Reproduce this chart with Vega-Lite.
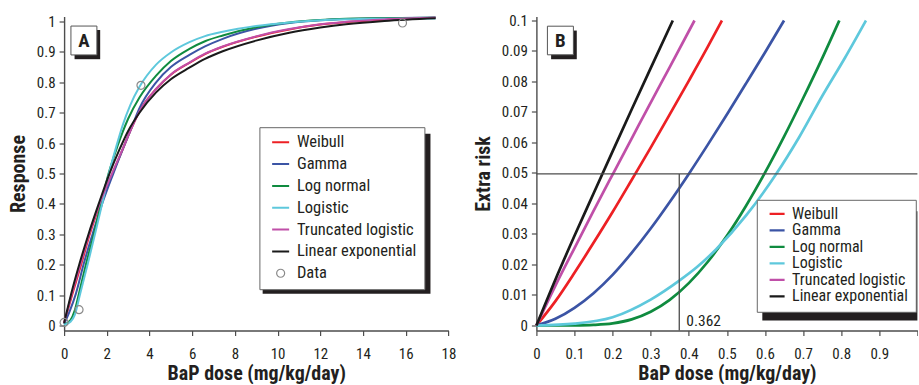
{
  "$schema": "https://vega.github.io/schema/vega-lite/v6.json",
  "background": "white",
  "padding": {"left": 8.1, "top": 12.5, "right": 0, "bottom": 0},
  "bounds": "flush",
  "spacing": 87.3,
  "config": {
    "view": {"stroke": null},
    "font": "'Roboto Condensed', 'DejaVu Sans Condensed', sans-serif",
    "axis": {
      "grid": false, "domainColor": "#4d4d4d", "domainWidth": 1.4,
      "tickColor": "#4d4d4d", "tickWidth": 1.2, "tickSize": 5,
      "labelFont": "'Roboto Condensed', 'DejaVu Sans Condensed', sans-serif",
      "labelFontSize": 15, "labelColor": "#231f20", "labelFlush": false, "labelOverlap": false,
      "titleFont": "'Roboto Condensed', 'DejaVu Sans Condensed', sans-serif",
      "titleFontSize": 20, "titleFontWeight": "bold", "titleColor": "#231f20"
    },
    "axisX": {"labelPadding": 10.6, "titlePadding": 2},
    "axisY": {"labelPadding": 4, "titlePadding": 7.5}
  },
  "resolve": {"scale": {"color": "independent"}, "legend": {"color": "independent"}},
  "datasets": {
    "curvesA": [
      {"model": "Weibull", "dose": 0, "response": 0.008},
      {"model": "Weibull", "dose": 0.39, "response": 0.104},
      {"model": "Weibull", "dose": 0.81, "response": 0.203},
      {"model": "Weibull", "dose": 1.21, "response": 0.302},
      {"model": "Weibull", "dose": 1.69, "response": 0.4},
      {"model": "Weibull", "dose": 2.26, "response": 0.499},
      {"model": "Weibull", "dose": 2.75, "response": 0.58},
      {"model": "Weibull", "dose": 3.1, "response": 0.64},
      {"model": "Weibull", "dose": 3.53, "response": 0.705},
      {"model": "Weibull", "dose": 4.31, "response": 0.778},
      {"model": "Weibull", "dose": 5.0, "response": 0.825},
      {"model": "Weibull", "dose": 5.87, "response": 0.864},
      {"model": "Weibull", "dose": 6.6, "response": 0.893},
      {"model": "Weibull", "dose": 7.43, "response": 0.917},
      {"model": "Weibull", "dose": 8.99, "response": 0.95},
      {"model": "Weibull", "dose": 10.55, "response": 0.974},
      {"model": "Weibull", "dose": 12, "response": 0.99},
      {"model": "Weibull", "dose": 13.2, "response": 0.998},
      {"model": "Weibull", "dose": 15, "response": 1.006},
      {"model": "Weibull", "dose": 17.4, "response": 1.012},
      {"model": "Gamma", "dose": 0, "response": 0.005},
      {"model": "Gamma", "dose": 0.25, "response": 0.045},
      {"model": "Gamma", "dose": 0.55, "response": 0.104},
      {"model": "Gamma", "dose": 0.92, "response": 0.203},
      {"model": "Gamma", "dose": 1.34, "response": 0.302},
      {"model": "Gamma", "dose": 1.78, "response": 0.4},
      {"model": "Gamma", "dose": 2.3, "response": 0.499},
      {"model": "Gamma", "dose": 2.75, "response": 0.58},
      {"model": "Gamma", "dose": 3.1, "response": 0.64},
      {"model": "Gamma", "dose": 3.53, "response": 0.715},
      {"model": "Gamma", "dose": 4.31, "response": 0.8},
      {"model": "Gamma", "dose": 5.0, "response": 0.85},
      {"model": "Gamma", "dose": 5.87, "response": 0.89},
      {"model": "Gamma", "dose": 6.6, "response": 0.918},
      {"model": "Gamma", "dose": 7.43, "response": 0.943},
      {"model": "Gamma", "dose": 8.99, "response": 0.976},
      {"model": "Gamma", "dose": 10.55, "response": 0.995},
      {"model": "Gamma", "dose": 12, "response": 1.004},
      {"model": "Gamma", "dose": 13.2, "response": 1.008},
      {"model": "Gamma", "dose": 15, "response": 1.011},
      {"model": "Gamma", "dose": 17.4, "response": 1.013},
      {"model": "Log normal", "dose": 0, "response": 0.003},
      {"model": "Log normal", "dose": 0.3, "response": 0.018},
      {"model": "Log normal", "dose": 0.5, "response": 0.05},
      {"model": "Log normal", "dose": 0.69, "response": 0.104},
      {"model": "Log normal", "dose": 1.03, "response": 0.203},
      {"model": "Log normal", "dose": 1.4, "response": 0.302},
      {"model": "Log normal", "dose": 1.73, "response": 0.4},
      {"model": "Log normal", "dose": 2.08, "response": 0.499},
      {"model": "Log normal", "dose": 2.5, "response": 0.59},
      {"model": "Log normal", "dose": 3.0, "response": 0.68},
      {"model": "Log normal", "dose": 3.53, "response": 0.75},
      {"model": "Log normal", "dose": 4.31, "response": 0.822},
      {"model": "Log normal", "dose": 5.0, "response": 0.87},
      {"model": "Log normal", "dose": 5.87, "response": 0.91},
      {"model": "Log normal", "dose": 6.6, "response": 0.935},
      {"model": "Log normal", "dose": 7.43, "response": 0.954},
      {"model": "Log normal", "dose": 8.99, "response": 0.981},
      {"model": "Log normal", "dose": 10.55, "response": 0.997},
      {"model": "Log normal", "dose": 12, "response": 1.005},
      {"model": "Log normal", "dose": 13.2, "response": 1.009},
      {"model": "Log normal", "dose": 15, "response": 1.011},
      {"model": "Log normal", "dose": 17.4, "response": 1.012},
      {"model": "Logistic", "dose": 0, "response": 0.002},
      {"model": "Logistic", "dose": 0.3, "response": 0.012},
      {"model": "Logistic", "dose": 0.5, "response": 0.035},
      {"model": "Logistic", "dose": 0.75, "response": 0.104},
      {"model": "Logistic", "dose": 1.11, "response": 0.203},
      {"model": "Logistic", "dose": 1.45, "response": 0.302},
      {"model": "Logistic", "dose": 1.78, "response": 0.4},
      {"model": "Logistic", "dose": 2.1, "response": 0.499},
      {"model": "Logistic", "dose": 2.45, "response": 0.59},
      {"model": "Logistic", "dose": 2.75, "response": 0.66},
      {"model": "Logistic", "dose": 3.1, "response": 0.725},
      {"model": "Logistic", "dose": 3.53, "response": 0.785},
      {"model": "Logistic", "dose": 4.31, "response": 0.858},
      {"model": "Logistic", "dose": 5.0, "response": 0.898},
      {"model": "Logistic", "dose": 5.87, "response": 0.932},
      {"model": "Logistic", "dose": 6.6, "response": 0.952},
      {"model": "Logistic", "dose": 7.43, "response": 0.966},
      {"model": "Logistic", "dose": 8.99, "response": 0.985},
      {"model": "Logistic", "dose": 10.55, "response": 0.997},
      {"model": "Logistic", "dose": 12, "response": 1.004},
      {"model": "Logistic", "dose": 13.2, "response": 1.007},
      {"model": "Logistic", "dose": 15, "response": 1.009},
      {"model": "Logistic", "dose": 17.4, "response": 1.01},
      {"model": "Truncated logistic", "dose": 0, "response": 0.008},
      {"model": "Truncated logistic", "dose": 0.36, "response": 0.104},
      {"model": "Truncated logistic", "dose": 0.77, "response": 0.203},
      {"model": "Truncated logistic", "dose": 1.18, "response": 0.302},
      {"model": "Truncated logistic", "dose": 1.66, "response": 0.4},
      {"model": "Truncated logistic", "dose": 2.24, "response": 0.499},
      {"model": "Truncated logistic", "dose": 2.74, "response": 0.58},
      {"model": "Truncated logistic", "dose": 3.1, "response": 0.64},
      {"model": "Truncated logistic", "dose": 3.53, "response": 0.704},
      {"model": "Truncated logistic", "dose": 4.31, "response": 0.778},
      {"model": "Truncated logistic", "dose": 5.0, "response": 0.826},
      {"model": "Truncated logistic", "dose": 5.87, "response": 0.865},
      {"model": "Truncated logistic", "dose": 6.6, "response": 0.894},
      {"model": "Truncated logistic", "dose": 7.43, "response": 0.918},
      {"model": "Truncated logistic", "dose": 8.99, "response": 0.951},
      {"model": "Truncated logistic", "dose": 10.55, "response": 0.975},
      {"model": "Truncated logistic", "dose": 12, "response": 0.991},
      {"model": "Truncated logistic", "dose": 13.2, "response": 0.999},
      {"model": "Truncated logistic", "dose": 15, "response": 1.007},
      {"model": "Truncated logistic", "dose": 17.4, "response": 1.012},
      {"model": "Linear exponential", "dose": 0, "response": 0.008},
      {"model": "Linear exponential", "dose": 0.33, "response": 0.104},
      {"model": "Linear exponential", "dose": 0.72, "response": 0.203},
      {"model": "Linear exponential", "dose": 1.15, "response": 0.302},
      {"model": "Linear exponential", "dose": 1.62, "response": 0.4},
      {"model": "Linear exponential", "dose": 2.12, "response": 0.499},
      {"model": "Linear exponential", "dose": 2.6, "response": 0.58},
      {"model": "Linear exponential", "dose": 3.0, "response": 0.64},
      {"model": "Linear exponential", "dose": 3.53, "response": 0.7},
      {"model": "Linear exponential", "dose": 4.31, "response": 0.767},
      {"model": "Linear exponential", "dose": 5.0, "response": 0.81},
      {"model": "Linear exponential", "dose": 5.87, "response": 0.848},
      {"model": "Linear exponential", "dose": 6.6, "response": 0.877},
      {"model": "Linear exponential", "dose": 7.43, "response": 0.902},
      {"model": "Linear exponential", "dose": 8.99, "response": 0.937},
      {"model": "Linear exponential", "dose": 10.55, "response": 0.963},
      {"model": "Linear exponential", "dose": 12, "response": 0.98},
      {"model": "Linear exponential", "dose": 13.2, "response": 0.991},
      {"model": "Linear exponential", "dose": 15, "response": 1.002},
      {"model": "Linear exponential", "dose": 17.4, "response": 1.011}
    ],
    "pointsA": [
      {"model": "Data", "dose": 0, "response": 0.01},
      {"model": "Data", "dose": 0.7, "response": 0.052},
      {"model": "Data", "dose": 3.6, "response": 0.79},
      {"model": "Data", "dose": 15.85, "response": 0.995}
    ],
    "curvesB": [
      {"model": "Weibull", "dose": 0, "risk": 0},
      {"model": "Weibull", "dose": 0.05, "risk": 0.008},
      {"model": "Weibull", "dose": 0.1, "risk": 0.0173},
      {"model": "Weibull", "dose": 0.15, "risk": 0.0271},
      {"model": "Weibull", "dose": 0.2, "risk": 0.0372},
      {"model": "Weibull", "dose": 0.25, "risk": 0.0477},
      {"model": "Weibull", "dose": 0.3, "risk": 0.0583},
      {"model": "Weibull", "dose": 0.35, "risk": 0.0692},
      {"model": "Weibull", "dose": 0.4, "risk": 0.0802},
      {"model": "Weibull", "dose": 0.45, "risk": 0.0914},
      {"model": "Weibull", "dose": 0.487, "risk": 0.1},
      {"model": "Gamma", "dose": 0, "risk": 0},
      {"model": "Gamma", "dose": 0.05, "risk": 0.0022},
      {"model": "Gamma", "dose": 0.1, "risk": 0.0058},
      {"model": "Gamma", "dose": 0.15, "risk": 0.0106},
      {"model": "Gamma", "dose": 0.2, "risk": 0.0166},
      {"model": "Gamma", "dose": 0.25, "risk": 0.0238},
      {"model": "Gamma", "dose": 0.3, "risk": 0.0318},
      {"model": "Gamma", "dose": 0.35, "risk": 0.0405},
      {"model": "Gamma", "dose": 0.4, "risk": 0.0497},
      {"model": "Gamma", "dose": 0.45, "risk": 0.0593},
      {"model": "Gamma", "dose": 0.5, "risk": 0.0692},
      {"model": "Gamma", "dose": 0.55, "risk": 0.0793},
      {"model": "Gamma", "dose": 0.6, "risk": 0.0895},
      {"model": "Gamma", "dose": 0.65, "risk": 0.1},
      {"model": "Log normal", "dose": 0, "risk": 0},
      {"model": "Log normal", "dose": 0.05, "risk": 0},
      {"model": "Log normal", "dose": 0.1, "risk": 0.00003},
      {"model": "Log normal", "dose": 0.15, "risk": 0.0002},
      {"model": "Log normal", "dose": 0.2, "risk": 0.0007},
      {"model": "Log normal", "dose": 0.25, "risk": 0.002},
      {"model": "Log normal", "dose": 0.3, "risk": 0.0045},
      {"model": "Log normal", "dose": 0.35, "risk": 0.0084},
      {"model": "Log normal", "dose": 0.4, "risk": 0.0139},
      {"model": "Log normal", "dose": 0.45, "risk": 0.0209},
      {"model": "Log normal", "dose": 0.5, "risk": 0.0294},
      {"model": "Log normal", "dose": 0.55, "risk": 0.0392},
      {"model": "Log normal", "dose": 0.6, "risk": 0.0501},
      {"model": "Log normal", "dose": 0.65, "risk": 0.0619},
      {"model": "Log normal", "dose": 0.7, "risk": 0.0745},
      {"model": "Log normal", "dose": 0.75, "risk": 0.0876},
      {"model": "Log normal", "dose": 0.795, "risk": 0.1},
      {"model": "Logistic", "dose": 0, "risk": 0},
      {"model": "Logistic", "dose": 0.1, "risk": 0.0006},
      {"model": "Logistic", "dose": 0.2, "risk": 0.0027},
      {"model": "Logistic", "dose": 0.3, "risk": 0.0085},
      {"model": "Logistic", "dose": 0.376, "risk": 0.0148},
      {"model": "Logistic", "dose": 0.42, "risk": 0.019},
      {"model": "Logistic", "dose": 0.472, "risk": 0.025},
      {"model": "Logistic", "dose": 0.55, "risk": 0.036},
      {"model": "Logistic", "dose": 0.628, "risk": 0.0494},
      {"model": "Logistic", "dose": 0.69, "risk": 0.0618},
      {"model": "Logistic", "dose": 0.751, "risk": 0.0754},
      {"model": "Logistic", "dose": 0.81, "risk": 0.0878},
      {"model": "Logistic", "dose": 0.865, "risk": 0.1},
      {"model": "Truncated logistic", "dose": 0, "risk": 0},
      {"model": "Truncated logistic", "dose": 0.05, "risk": 0.0131},
      {"model": "Truncated logistic", "dose": 0.1, "risk": 0.0254},
      {"model": "Truncated logistic", "dose": 0.15, "risk": 0.0376},
      {"model": "Truncated logistic", "dose": 0.2, "risk": 0.0495},
      {"model": "Truncated logistic", "dose": 0.25, "risk": 0.0613},
      {"model": "Truncated logistic", "dose": 0.3, "risk": 0.0731},
      {"model": "Truncated logistic", "dose": 0.35, "risk": 0.0847},
      {"model": "Truncated logistic", "dose": 0.415, "risk": 0.1},
      {"model": "Linear exponential", "dose": 0, "risk": 0},
      {"model": "Linear exponential", "dose": 0.05, "risk": 0.0151},
      {"model": "Linear exponential", "dose": 0.1, "risk": 0.0294},
      {"model": "Linear exponential", "dose": 0.15, "risk": 0.0433},
      {"model": "Linear exponential", "dose": 0.2, "risk": 0.0571},
      {"model": "Linear exponential", "dose": 0.25, "risk": 0.0708},
      {"model": "Linear exponential", "dose": 0.3, "risk": 0.0844},
      {"model": "Linear exponential", "dose": 0.358, "risk": 0.1}
    ]
  },
  "hconcat": [
    {
      "width": 384.3,
      "height": 314,
      "layer": [
        {
          "data": {"name": "curvesA"},
          "mark": {"type": "line", "interpolate": "monotone", "strokeWidth": 2},
          "encoding": {
            "x": {"field": "dose", "type": "quantitative",
                  "scale": {"domain": [0, 18], "nice": false, "zero": false},
                  "axis": {"values": [0, 2, 4, 6, 8, 10, 12, 14, 16, 18], "format": "~g", "title": "BaP dose (mg/kg/day)"}},
            "y": {"field": "response", "type": "quantitative",
                  "scale": {"domain": [-0.01645, 1.01645], "nice": false, "zero": false},
                  "axis": {"values": [0, 0.1, 0.2, 0.3, 0.4, 0.5, 0.6, 0.7, 0.8, 0.9, 1], "format": "~g", "title": "Response"}},
            "color": {"field": "model", "type": "nominal",
                      "scale": {"domain": ["Weibull", "Gamma", "Log normal", "Logistic", "Truncated logistic", "Linear exponential", "Data"],
                                "range": ["#ed2024", "#3b54a5", "#0f8b3f", "#5ec8dc", "#c04fa8", "#1a1a1a", "#8a8a8a"]},
                      "legend": {
                        "orient": "none", "legendX": 195.3, "legendY": 110.7, "title": null,
                        "padding": 7, "symbolOffset": 6, "labelOffset": 8, "clipHeight": 16, "rowPadding": 4.84,
                        "fillColor": "#ffffff", "strokeColor": "#666666",
                        "labelFont": "'Roboto Condensed', 'DejaVu Sans Condensed', sans-serif",
                        "labelFontSize": 16.5, "labelColor": "#231f20", "labelLimit": 0,
                        "symbolType": "stroke", "symbolSize": 289, "symbolStrokeWidth": 2,
                        "encode": {"symbols": {"update": {
                          "shape": {"signal": "datum.value === 'Data' ? 'circle' : 'stroke'"},
                          "size": {"signal": "datum.value === 'Data' ? 64 : 289"},
                          "strokeWidth": {"signal": "datum.value === 'Data' ? 1.2 : 2"}
                        }}}
                      }}
          }
        },
        {
          "data": {"name": "pointsA"},
          "mark": {"type": "point", "filled": false, "size": 64, "strokeWidth": 1.2, "opacity": 1},
          "encoding": {
            "x": {"field": "dose", "type": "quantitative", "scale": {"domain": [0, 18], "nice": false, "zero": false},
                  "axis": {"values": [0, 2, 4, 6, 8, 10, 12, 14, 16, 18], "format": "~g", "title": "BaP dose (mg/kg/day)"}},
            "y": {"field": "response", "type": "quantitative", "scale": {"domain": [-0.01645, 1.01645], "nice": false, "zero": false},
                  "axis": {"values": [0, 0.1, 0.2, 0.3, 0.4, 0.5, 0.6, 0.7, 0.8, 0.9, 1], "format": "~g", "title": "Response"}},
            "color": {"field": "model", "type": "nominal"}
          }
        },
        {
          "data": {"values": [{}]},
          "mark": {"type": "rect", "color": "#231f20"},
          "encoding": {
            "x": {"datum": 9.3, "type": "quantitative", "axis": {"values": [0, 2, 4, 6, 8, 10, 12, 14, 16, 18], "format": "~g", "title": "BaP dose (mg/kg/day)"}},
            "x2": {"datum": 17.16},
            "y": {"datum": 0.6306, "type": "quantitative", "axis": {"values": [0, 0.1, 0.2, 0.3, 0.4, 0.5, 0.6, 0.7, 0.8, 0.9, 1], "format": "~g", "title": "Response"}},
            "y2": {"datum": 0.1043}
          }
        },
        {
          "data": {"values": [{}]},
          "mark": {"type": "rect", "color": "#231f20"},
          "encoding": {
            "x": {"datum": 0.49, "type": "quantitative", "axis": {"values": [0, 2, 4, 6, 8, 10, 12, 14, 16, 18], "format": "~g", "title": "BaP dose (mg/kg/day)"}},
            "x2": {"datum": 1.69},
            "y": {"datum": 0.972, "type": "quantitative", "axis": {"values": [0, 0.1, 0.2, 0.3, 0.4, 0.5, 0.6, 0.7, 0.8, 0.9, 1], "format": "~g", "title": "Response"}},
            "y2": {"datum": 0.876}
          }
        },
        {
          "data": {"values": [{}]},
          "mark": {"type": "rect", "fill": "#ffffff", "stroke": "#555555", "strokeWidth": 1},
          "encoding": {
            "x": {"datum": 0.32, "type": "quantitative", "axis": {"values": [0, 2, 4, 6, 8, 10, 12, 14, 16, 18], "format": "~g", "title": "BaP dose (mg/kg/day)"}},
            "x2": {"datum": 1.536},
            "y": {"datum": 0.985, "type": "quantitative", "axis": {"values": [0, 0.1, 0.2, 0.3, 0.4, 0.5, 0.6, 0.7, 0.8, 0.9, 1], "format": "~g", "title": "Response"}},
            "y2": {"datum": 0.89}
          }
        },
        {
          "data": {"values": [{"label": "A"}]},
          "mark": {"type": "text", "fontSize": 19, "fontWeight": "bold", "color": "#231f20", "align": "center", "baseline": "middle"},
          "encoding": {
            "x": {"datum": 0.927, "type": "quantitative", "axis": {"values": [0, 2, 4, 6, 8, 10, 12, 14, 16, 18], "format": "~g", "title": "BaP dose (mg/kg/day)"}},
            "y": {"datum": 0.9375, "type": "quantitative", "axis": {"values": [0, 0.1, 0.2, 0.3, 0.4, 0.5, 0.6, 0.7, 0.8, 0.9, 1], "format": "~g", "title": "Response"}},
            "text": {"field": "label"}
          }
        }
      ]
    },
    {
      "width": 381,
      "height": 314,
      "layer": [
        {
          "data": {"name": "curvesB"},
          "mark": {"type": "line", "interpolate": "monotone", "strokeWidth": 2.7},
          "encoding": {
            "x": {"field": "dose", "type": "quantitative",
                  "scale": {"domain": [0, 1], "nice": false, "zero": false},
                  "axis": {"values": [0, 0.1, 0.2, 0.3, 0.4, 0.5, 0.6, 0.7, 0.8, 0.9, 1], "format": "~g", "title": "BaP dose (mg/kg/day)", "labelExpr": "datum.value === 1 ? '' : datum.label"}},
            "y": {"field": "risk", "type": "quantitative",
                  "scale": {"domain": [-0.00164, 0.10131], "nice": false, "zero": false},
                  "axis": {"values": [0, 0.01, 0.02, 0.03, 0.04, 0.05, 0.06, 0.07, 0.08, 0.09, 0.1], "format": "~g", "title": "Extra risk"}},
            "color": {"field": "model", "type": "nominal",
                      "scale": {"domain": ["Weibull", "Gamma", "Log normal", "Logistic", "Truncated logistic", "Linear exponential"],
                                "range": ["#ed2024", "#3b54a5", "#0f8b3f", "#5ec8dc", "#c04fa8", "#1a1a1a"]},
                      "legend": {
                        "orient": "none", "legendX": 220.4, "legendY": 183.3, "title": null,
                        "padding": 7, "symbolOffset": 4.3, "labelOffset": 6, "clipHeight": 14, "rowPadding": 0.5,
                        "fillColor": "#ffffff", "strokeColor": "#666666",
                        "labelFont": "'Roboto Condensed', 'DejaVu Sans Condensed', sans-serif",
                        "labelFontSize": 16, "labelColor": "#231f20", "labelLimit": 0,
                        "symbolType": "stroke", "symbolSize": 225, "symbolStrokeWidth": 2.3
                      }}
          }
        },
        {
          "data": {"values": [{}]},
          "mark": {"type": "rect", "color": "#231f20"},
          "encoding": {
            "x": {"datum": 0.593, "type": "quantitative", "axis": {"values": [0, 0.1, 0.2, 0.3, 0.4, 0.5, 0.6, 0.7, 0.8, 0.9, 1], "format": "~g", "title": "BaP dose (mg/kg/day)", "labelExpr": "datum.value === 1 ? '' : datum.label"}},
            "x2": {"datum": 1.0},
            "y": {"datum": 0.03748, "type": "quantitative", "axis": {"values": [0, 0.01, 0.02, 0.03, 0.04, 0.05, 0.06, 0.07, 0.08, 0.09, 0.1], "format": "~g", "title": "Extra risk"}},
            "y2": {"datum": 0.00164}
          }
        },
        {
          "data": {"values": [{}]},
          "mark": {"type": "rule", "color": "#4d4d4d", "strokeWidth": 1.3},
          "encoding": {
            "y": {"datum": 0.0497, "type": "quantitative", "axis": {"values": [0, 0.01, 0.02, 0.03, 0.04, 0.05, 0.06, 0.07, 0.08, 0.09, 0.1], "format": "~g", "title": "Extra risk"}}
          }
        },
        {
          "data": {"values": [{}]},
          "mark": {"type": "rule", "color": "#4d4d4d", "strokeWidth": 1.3},
          "encoding": {
            "x": {"datum": 0.375, "type": "quantitative", "axis": {"values": [0, 0.1, 0.2, 0.3, 0.4, 0.5, 0.6, 0.7, 0.8, 0.9, 1], "format": "~g", "title": "BaP dose (mg/kg/day)", "labelExpr": "datum.value === 1 ? '' : datum.label"}},
            "y": {"datum": -0.00164, "type": "quantitative", "axis": {"values": [0, 0.01, 0.02, 0.03, 0.04, 0.05, 0.06, 0.07, 0.08, 0.09, 0.1], "format": "~g", "title": "Extra risk"}},
            "y2": {"datum": 0.0497}
          }
        },
        {
          "data": {"values": [{"label": "0.362"}]},
          "mark": {"type": "text", "fontSize": 15.5, "color": "#231f20", "align": "left", "baseline": "alphabetic", "dx": 7, "dy": 1},
          "encoding": {
            "x": {"datum": 0.375, "type": "quantitative", "axis": {"values": [0, 0.1, 0.2, 0.3, 0.4, 0.5, 0.6, 0.7, 0.8, 0.9, 1], "format": "~g", "title": "BaP dose (mg/kg/day)", "labelExpr": "datum.value === 1 ? '' : datum.label"}},
            "y": {"datum": 0, "type": "quantitative", "axis": {"values": [0, 0.01, 0.02, 0.03, 0.04, 0.05, 0.06, 0.07, 0.08, 0.09, 0.1], "format": "~g", "title": "Extra risk"}},
            "text": {"field": "label"}
          }
        },
        {
          "data": {"values": [{}]},
          "mark": {"type": "rect", "color": "#231f20"},
          "encoding": {
            "x": {"datum": 0.0386, "type": "quantitative", "axis": {"values": [0, 0.1, 0.2, 0.3, 0.4, 0.5, 0.6, 0.7, 0.8, 0.9, 1], "format": "~g", "title": "BaP dose (mg/kg/day)", "labelExpr": "datum.value === 1 ? '' : datum.label"}},
            "x2": {"datum": 0.106},
            "y": {"datum": 0.0967, "type": "quantitative", "axis": {"values": [0, 0.01, 0.02, 0.03, 0.04, 0.05, 0.06, 0.07, 0.08, 0.09, 0.1], "format": "~g", "title": "Extra risk"}},
            "y2": {"datum": 0.0873}
          }
        },
        {
          "data": {"values": [{}]},
          "mark": {"type": "rect", "fill": "#ffffff", "stroke": "#555555", "strokeWidth": 1},
          "encoding": {
            "x": {"datum": 0.0289, "type": "quantitative", "axis": {"values": [0, 0.1, 0.2, 0.3, 0.4, 0.5, 0.6, 0.7, 0.8, 0.9, 1], "format": "~g", "title": "BaP dose (mg/kg/day)", "labelExpr": "datum.value === 1 ? '' : datum.label"}},
            "x2": {"datum": 0.0971},
            "y": {"datum": 0.09813, "type": "quantitative", "axis": {"values": [0, 0.01, 0.02, 0.03, 0.04, 0.05, 0.06, 0.07, 0.08, 0.09, 0.1], "format": "~g", "title": "Extra risk"}},
            "y2": {"datum": 0.08875}
          }
        },
        {
          "data": {"values": [{"label": "B"}]},
          "mark": {"type": "text", "fontSize": 19, "fontWeight": "bold", "color": "#231f20", "align": "center", "baseline": "middle"},
          "encoding": {
            "x": {"datum": 0.063, "type": "quantitative", "axis": {"values": [0, 0.1, 0.2, 0.3, 0.4, 0.5, 0.6, 0.7, 0.8, 0.9, 1], "format": "~g", "title": "BaP dose (mg/kg/day)", "labelExpr": "datum.value === 1 ? '' : datum.label"}},
            "y": {"datum": 0.0934, "type": "quantitative", "axis": {"values": [0, 0.01, 0.02, 0.03, 0.04, 0.05, 0.06, 0.07, 0.08, 0.09, 0.1], "format": "~g", "title": "Extra risk"}},
            "text": {"field": "label"}
          }
        }
      ]
    }
  ]
}
